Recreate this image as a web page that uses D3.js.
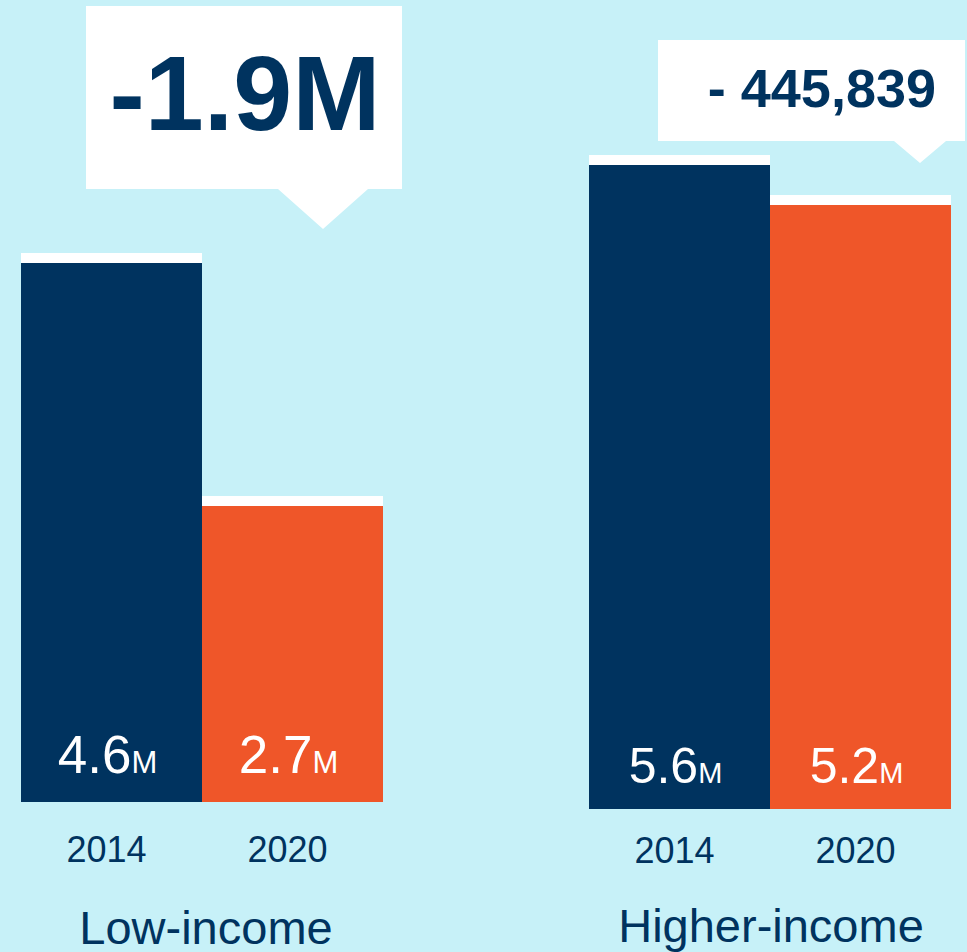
<!DOCTYPE html>
<html>
<head>
<meta charset="utf-8">
<script src="https://cdn.jsdelivr.net/npm/d3@7"></script>
<style>
  body { margin: 0; background: #c7f1f8; }
  text { font-family: "Liberation Sans", Arial, sans-serif; }
</style>
</head>
<body>
<svg id="vis" width="967" height="952"></svg>
<script>
// data
const groups = ["Low-income", "Higher-income"];
const years = ["2014", "2020"];
const values2014 = [4.6, 5.6];
const values2020 = [2.7, 5.2];
const changeLabels = ["-1.9M", "- 445,839"];

const navy = "#00335f";
const orange = "#ef5629";

let svg = d3.select("#vis");

// layout for each panel; each panel has its own (not zero based) height scale
let panels = [
    { x0: 21, base: 802, labelY: 773, yearY: 862, nameY: 944, nameX: 206,
      mainSize: 53, mSize: 31, hRange: [296, 539],
      box: [86, 6, 402, 189], tip: [278, 368, 323, 229],
      callX: 245, callY: 130, callSize: 106, anchor: "middle" },
    { x0: 589, base: 809, labelY: 783, yearY: 863, nameY: 942, nameX: 771,
      mainSize: 50, mSize: 29, hRange: [604, 644],
      box: [658, 40, 965, 141], tip: [894, 946, 920, 163],
      callX: 936, callY: 107, callSize: 54, anchor: "end" }
];

groups.forEach((name, i) => {
    let p = panels[i];
    let vals = [values2014[i], values2020[i]];
    let x = d3.scaleBand().domain(years).range([p.x0, p.x0 + 362]).padding(0);
    let h = d3.scaleLinear()
        .domain([d3.min(vals), d3.max(vals)])
        .range(p.hRange);
    let g = svg.append("g");

    let bars = g.selectAll(".bar").data(years).enter();
    // white cap on top
    bars.append("rect")
        .attr("x", d => x(d))
        .attr("width", x.bandwidth())
        .attr("y", (d, j) => p.base - h(vals[j]) - 10)
        .attr("height", 10)
        .attr("fill", "#fff");
    bars.append("rect")
        .attr("class", "bar")
        .attr("x", d => x(d))
        .attr("width", x.bandwidth())
        .attr("y", (d, j) => p.base - h(vals[j]))
        .attr("height", (d, j) => h(vals[j]))
        .attr("fill", (d, j) => j == 0 ? navy : orange);

    // value labels
    let lbl = bars.append("text")
        .attr("x", d => x(d) + x.bandwidth() / 2 - 4)
        .attr("y", p.labelY)
        .attr("text-anchor", "middle")
        .attr("fill", "#fff");
    lbl.append("tspan")
        .attr("font-size", p.mainSize)
        .text((d, j) => vals[j].toFixed(1));
    lbl.append("tspan")
        .attr("font-size", p.mSize)
        .text("M");

    // year labels
    bars.append("text")
        .attr("x", d => x(d) + x.bandwidth() / 2 - 5)
        .attr("y", p.yearY)
        .attr("text-anchor", "middle")
        .attr("font-size", 36)
        .attr("fill", navy)
        .text(d => d);

    // group name
    g.append("text")
        .attr("x", p.nameX)
        .attr("y", p.nameY)
        .attr("text-anchor", "middle")
        .attr("font-size", 47)
        .attr("fill", navy)
        .text(name);

    // callout
    let b = p.box, t = p.tip;
    g.append("path")
        .attr("d", `M${b[0]},${b[1]}H${b[2]}V${b[3]}H${t[1]}L${t[2]},${t[3]}L${t[0]},${b[3]}H${b[0]}Z`)
        .attr("fill", "#fff");
    g.append("text")
        .attr("x", p.callX)
        .attr("y", p.callY)
        .attr("text-anchor", p.anchor)
        .attr("font-size", p.callSize)
        .attr("font-weight", "bold")
        .attr("fill", navy)
        .text(changeLabels[i]);
});
</script>
</body>
</html>
